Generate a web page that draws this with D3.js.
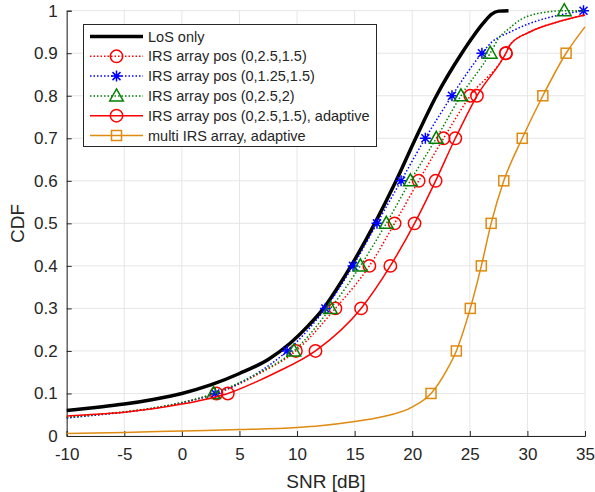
<!DOCTYPE html>
<html>
<head>
<meta charset="utf-8">
<script src="https://cdn.jsdelivr.net/npm/d3@7"></script>
<style>
  body { margin: 0; background: #fff; }
  svg text { font-family: "Liberation Sans", Arial, Helvetica, sans-serif; fill: #262626; }
</style>
</head>
<body>
<div id="chart"></div>
<script>
const xTicks = [-10, -5, 0, 5, 10, 15, 20, 25, 30, 35];
const yTicks = [0, 0.1, 0.2, 0.3, 0.4, 0.5, 0.6, 0.7, 0.8, 0.9, 1];
const cdfLevels = [0.1, 0.2, 0.3, 0.4, 0.5, 0.6, 0.7, 0.8, 0.9, 1.0];

// LoS only (no markers)
const losCurve = [[-10, 0.06], [-7.5, 0.067], [-5, 0.075], [-2.5, 0.086], [0, 0.1], [2.5, 0.12],
  [5, 0.147], [7.5, 0.18], [9.4, 0.218], [11, 0.26], [12.3, 0.3], [13.5, 0.348], [14.69, 0.4],
  [16.75, 0.5], [18.6, 0.6], [20.3, 0.7], [22.1, 0.8], [24.3, 0.9], [25.3, 0.94], [26.2, 0.972],
  [26.9, 0.992], [27.5, 0.999], [28.36, 1.0]];

// IRS array pos (0,2.5,1.5)
const posAMarks = [3.0, 9.9, 13.33, 16.28, 18.47, 20.56, 22.72, 25.04, 28.13];
const posACurve = [[-10, 0.044], [-7.5, 0.05], [-5, 0.056], [-2.5, 0.065], [0, 0.078], [1.5, 0.088],
  [6.6, 0.145], [28.5, 0.92], [30.2, 0.95], [32.8, 0.975], [35, 0.99]];

// IRS array pos (0,1.25,1.5)
const posBMarks = [2.9, 9.14, 12.46, 14.86, 16.94, 19.03, 21.14, 23.45, 26.05, 34.87];
const posBCurve = [[-10, 0.042], [-7.5, 0.049], [-5, 0.056], [-2.5, 0.065], [0, 0.078], [1.5, 0.088],
  [6.5, 0.147], [26.9, 0.926], [28.5, 0.95], [30.2, 0.97], [32.8, 0.99]];

// IRS array pos (0,2.5,2)
const posCMarks = [2.75, 9.72, 12.9, 15.5, 17.75, 19.84, 22.09, 24.23, 26.77, 33.2];
const posCCurve = [[-10, 0.044], [-7.5, 0.05], [-5, 0.057], [-2.5, 0.066], [0, 0.079], [1.5, 0.089],
  [6.5, 0.146], [27.5, 0.935], [28.5, 0.96], [29.4, 0.979], [31.7, 0.997], [35, 1.0]];

// IRS array pos (0,2.5,1.5), adaptive
const adaptMarks = [3.99, 11.6, 15.56, 18.1, 20.2, 22.03, 23.74, 25.62, 28.13];
const adaptCurve = [[-10, 0.047], [-7.5, 0.051], [-5, 0.056], [-2.5, 0.064], [0, 0.075], [2, 0.086],
  [6.5, 0.128], [8, 0.147], [28.5, 0.92], [30.2, 0.95], [32.8, 0.975], [35, 0.99]];

// multi IRS array, adaptive
const multiMarks = [21.63, 23.83, 25.04, 26.0, 26.85, 27.95, 29.55, 31.34, 33.36];
const multiCurve = [[-10, 0.006], [-5, 0.008], [0, 0.012], [5, 0.015], [10, 0.02], [12, 0.024],
  [15, 0.034], [17.2, 0.044], [20.07, 0.069], [23.0, 0.155], [35, 0.962]];

const seriesNames = ["LoS only", "IRS array pos (0,2.5,1.5)", "IRS array pos (0,1.25,1.5)",
  "IRS array pos (0,2.5,2)", "IRS array pos (0,2.5,1.5), adaptive", "multi IRS array, adaptive"];

function buildSeries() {
  const withMarks = (curve, marks) => {
    const pts = marks.map((x, i) => [x, cdfLevels[i]]);
    return { points: curve.concat(pts).sort((a, b) => a[0] - b[0]), marks: pts };
  };
  return [
    { name: seriesNames[0], color: "#000000", width: 3.5, dash: null, marker: null, points: losCurve, marks: [] },
    { name: seriesNames[1], color: "#ff0000", width: 1.5, dash: "1.5,2", marker: "circle", ...withMarks(posACurve, posAMarks) },
    { name: seriesNames[2], color: "#0000ff", width: 1.5, dash: "1.5,2", marker: "star", ...withMarks(posBCurve, posBMarks) },
    { name: seriesNames[3], color: "#008000", width: 1.5, dash: "1.5,2", marker: "triangle", ...withMarks(posCCurve, posCMarks) },
    { name: seriesNames[4], color: "#ff0000", width: 1.5, dash: null, marker: "circle", ...withMarks(adaptCurve, adaptMarks) },
    { name: seriesNames[5], color: "#df8a10", width: 1.5, dash: null, marker: "square", ...withMarks(multiCurve, multiMarks) }
  ];
}

function drawMarker(g, type, color) {
  if (type === "circle") {
    g.append("circle").attr("r", 6.2);
  } else if (type === "square") {
    g.append("rect").attr("x", -5).attr("y", -5).attr("width", 10).attr("height", 10);
  } else if (type === "triangle") {
    g.append("path").attr("d", "M0,-7L6.8,5L-6.8,5Z");
  } else if (type === "star") {
    g.append("path").attr("d", "M-5.5,0H5.5M0,-5.5V5.5M-4,-4L4,4M-4,4L4,-4");
  }
  g.selectAll("*").attr("fill", "none").attr("stroke", color).attr("stroke-width", 1.5);
}

function renderChart() {
  const width = 595, height = 492;
  const margin = { left: 66.7, right: 10, top: 10.7, bottom: 56 };

  const svg = d3.select("#chart").append("svg")
    .attr("width", width)
    .attr("height", height);

  const x = d3.scaleLinear().domain([-10, 35]).range([margin.left, width - margin.right]);
  const y = d3.scaleLinear().domain([0, 1]).range([height - margin.bottom, margin.top]);

  // grid
  const grid = svg.append("g");
  grid.selectAll(".gx").data(xTicks).enter().append("line")
    .attr("x1", d => x(d)).attr("x2", d => x(d))
    .attr("y1", y(0)).attr("y2", y(1))
    .attr("stroke", "#e6e6e6").attr("stroke-width", 1);
  grid.selectAll(".gy").data(yTicks).enter().append("line")
    .attr("x1", x(-10)).attr("x2", x(35))
    .attr("y1", d => y(d)).attr("y2", d => y(d))
    .attr("stroke", "#e6e6e6").attr("stroke-width", 1);

  // axes
  const xAxis = svg.append("g")
    .attr("transform", `translate(0,${y(0)})`)
    .call(d3.axisBottom(x).tickValues(xTicks).tickSize(-5).tickPadding(12).tickFormat(d => String(d)));
  const yAxis = svg.append("g")
    .attr("transform", `translate(${x(-10)},0)`)
    .call(d3.axisLeft(y).tickValues(yTicks).tickSize(-5).tickPadding(9).tickFormat(d => d === 0 || d === 1 ? d : d3.format(".1f")(d)));

  [xAxis, yAxis].forEach(a => {
    a.select(".domain").attr("stroke", "#262626").attr("stroke-width", 1);
    a.selectAll(".tick line").attr("stroke", "#262626");
    a.selectAll(".tick text").style("font-size", "17px").attr("fill", "#262626");
  });

  svg.append("text")
    .attr("x", (x(-10) + x(35)) / 2).attr("y", 488)
    .attr("text-anchor", "middle")
    .style("font-size", "19px")
    .text("SNR [dB]");
  svg.append("text")
    .attr("transform", `translate(24,${(y(0) + y(1)) / 2}) rotate(-90)`)
    .attr("text-anchor", "middle")
    .style("font-size", "19px")
    .text("CDF");

  const series = buildSeries();
  const line = d3.line().x(d => x(d[0])).y(d => y(d[1])).curve(d3.curveMonotoneX);

  series.forEach(s => {
    const g = svg.append("g");
    g.append("path")
      .datum(s.points)
      .attr("d", line)
      .attr("fill", "none")
      .attr("stroke", s.color)
      .attr("stroke-width", s.width)
      .attr("stroke-dasharray", s.dash)
      .attr("stroke-linejoin", "round");
    s.marks.forEach(p => {
      const m = g.append("g").attr("transform", `translate(${x(p[0])},${y(p[1])})`);
      drawMarker(m, s.marker, s.color);
    });
  });

  // legend
  const lg = svg.append("g");
  lg.append("rect")
    .attr("x", 83.5).attr("y", 24.5).attr("width", 293).attr("height", 122)
    .attr("fill", "#fff").attr("stroke", "#262626").attr("stroke-width", 1);
  series.forEach((s, i) => {
    const ry = 36.5 + i * 19.8;
    lg.append("line")
      .attr("x1", 90).attr("x2", 143).attr("y1", ry).attr("y2", ry)
      .attr("stroke", s.color).attr("stroke-width", s.width)
      .attr("stroke-dasharray", s.dash);
    if (s.marker) {
      drawMarker(lg.append("g").attr("transform", `translate(116.5,${ry})`), s.marker, s.color);
    }
    lg.append("text")
      .attr("x", 148).attr("y", ry).attr("dy", "0.35em")
      .style("font-size", "14.5px")
      .text(s.name);
  });
}

window.addEventListener('load', renderChart);
</script>
</body>
</html>
